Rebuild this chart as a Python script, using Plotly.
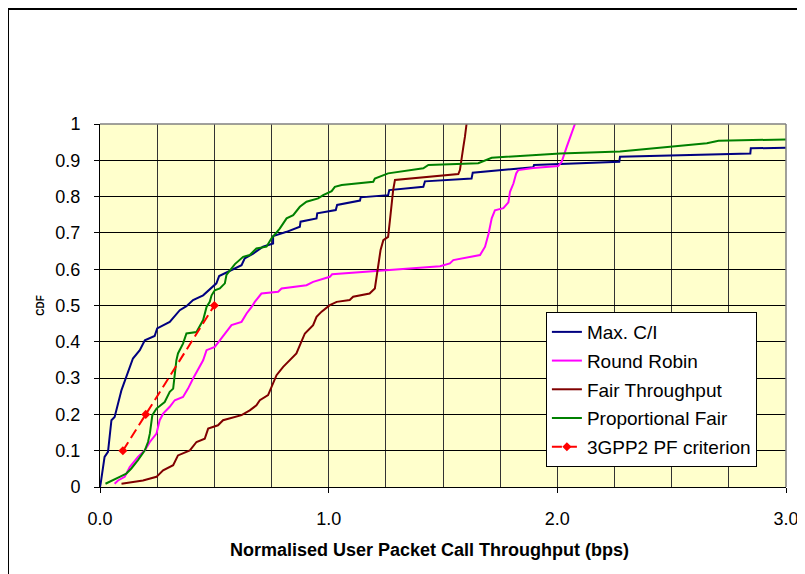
import plotly.graph_objects as go

# CDF curves (x = normalised throughput, y = CDF)
maxci_x = [0, 0.003, 0.02, 0.035, 0.05, 0.064, 0.094, 0.115, 0.144, 0.174, 0.196, 0.239, 0.25,
           0.305, 0.349, 0.378, 0.407, 0.451, 0.509, 0.521, 0.56, 0.619, 0.633, 0.67, 0.713,
           0.757, 0.757, 0.816, 0.874, 0.877, 0.947, 0.95, 1.031, 1.037, 1.137, 1.14, 1.26,
           1.265, 1.414, 1.421, 1.625, 1.63, 1.895, 1.898, 2.271, 2.274, 2.844, 2.846, 3.05]
maxci_y = [0, 0.01, 0.083, 0.097, 0.184, 0.193, 0.267, 0.303, 0.354, 0.377, 0.404, 0.416, 0.437,
           0.455, 0.487, 0.498, 0.515, 0.528, 0.561, 0.581, 0.593, 0.611, 0.63, 0.643, 0.662,
           0.671, 0.691, 0.703, 0.717, 0.731, 0.74, 0.754, 0.763, 0.777, 0.789, 0.798, 0.804,
           0.818, 0.827, 0.842, 0.85, 0.866, 0.881, 0.887, 0.896, 0.91, 0.919, 0.933, 0.935]

rr_x = [0.064, 0.079, 0.108, 0.13, 0.166, 0.196, 0.218, 0.247, 0.261, 0.276, 0.305, 0.327, 0.363,
        0.385, 0.407, 0.429, 0.451, 0.466, 0.502, 0.524, 0.575, 0.619, 0.641, 0.663, 0.677,
        0.706, 0.779, 0.794, 0.903, 0.932, 1.005, 1.015, 1.223, 1.487, 1.53, 1.545, 1.662,
        1.684, 1.699, 1.713, 1.727, 1.764, 1.786, 1.793, 1.808, 1.82, 1.829, 1.895, 2.004,
        2.019, 2.041, 2.063, 2.077]
rr_y = [0.009, 0.018, 0.028, 0.055, 0.083, 0.101, 0.124, 0.147, 0.184, 0.202, 0.221, 0.239, 0.248,
        0.271, 0.299, 0.322, 0.349, 0.377, 0.386, 0.404, 0.446, 0.455, 0.478, 0.496, 0.51,
        0.533, 0.538, 0.547, 0.556, 0.565, 0.579, 0.586, 0.595, 0.608, 0.616, 0.625, 0.639,
        0.662, 0.697, 0.74, 0.762, 0.768, 0.784, 0.813, 0.836, 0.864, 0.873, 0.879, 0.884,
        0.896, 0.937, 0.974, 1.0]

ft_x = [0.094, 0.188, 0.247, 0.276, 0.32, 0.341, 0.393, 0.422, 0.458, 0.473, 0.516, 0.538, 0.619,
        0.655, 0.684, 0.699, 0.735, 0.757, 0.772, 0.801, 0.823, 0.859, 0.877, 0.896, 0.932,
        0.947, 0.969, 1.005, 1.035, 1.092, 1.107, 1.179, 1.202, 1.209, 1.217, 1.227, 1.239,
        1.26, 1.268, 1.275, 1.282, 1.29, 1.428, 1.567, 1.574, 1.582, 1.589, 1.596, 1.603]
ft_y = [0.009, 0.018, 0.028, 0.046, 0.06, 0.087, 0.101, 0.124, 0.133, 0.161, 0.17, 0.184, 0.198,
        0.211, 0.225, 0.239, 0.253, 0.285, 0.308, 0.331, 0.345, 0.368, 0.395, 0.423, 0.446,
        0.469, 0.483, 0.501, 0.51, 0.515, 0.524, 0.533, 0.547, 0.579, 0.607, 0.653, 0.68,
        0.689, 0.735, 0.781, 0.818, 0.846, 0.855, 0.862, 0.873, 0.901, 0.937, 0.965, 1.0]

pf_x = [0.024, 0.057, 0.086, 0.115, 0.137, 0.166, 0.196, 0.21, 0.218, 0.229, 0.247, 0.283, 0.305,
        0.32, 0.327, 0.334, 0.341, 0.363, 0.378, 0.422, 0.451, 0.466, 0.48, 0.488, 0.502,
        0.524, 0.546, 0.553, 0.59, 0.626, 0.655, 0.684, 0.728, 0.75, 0.786, 0.816, 0.845,
        0.874, 0.903, 0.954, 0.976, 1.013, 1.027, 1.057, 1.195, 1.202, 1.26, 1.414, 1.436,
        1.654, 1.713, 2.012, 2.274, 2.654, 2.705, 3.05]
pf_y = [0.009, 0.018, 0.028, 0.037, 0.051, 0.074, 0.101, 0.124, 0.147, 0.198, 0.216, 0.234, 0.262,
        0.271, 0.308, 0.349, 0.368, 0.395, 0.423, 0.427, 0.46, 0.496, 0.51, 0.528, 0.542,
        0.547, 0.561, 0.584, 0.614, 0.634, 0.639, 0.657, 0.662, 0.685, 0.712, 0.74, 0.749,
        0.772, 0.786, 0.795, 0.804, 0.815, 0.827, 0.832, 0.841, 0.85, 0.864, 0.878, 0.887,
        0.892, 0.907, 0.919, 0.924, 0.947, 0.954, 0.958]

crit_x = [0.1, 0.2, 0.5]
crit_y = [0.1, 0.2, 0.5]

FONT = "Arial, Liberation Sans, sans-serif"

fig = go.Figure()

series = [
    ("Max. C/I", maxci_x, maxci_y, "#000080"),
    ("Round Robin", rr_x, rr_y, "#FF00FF"),
    ("Fair Throughput", ft_x, ft_y, "#800000"),
    ("Proportional Fair", pf_x, pf_y, "#008000"),
]
for name, xs, ys, col in series:
    fig.add_trace(go.Scatter(x=xs, y=ys, name=name, mode="lines",
                             line=dict(color=col, width=2), legendgroup=name))

fig.add_trace(go.Scatter(
    x=crit_x, y=crit_y, name="3GPP2 PF criterion", mode="lines+markers",
    line=dict(color="#FF0000", width=2, dash="10px,5px"),
    marker=dict(symbol="diamond", size=7, color="#FF0000"),
    legendgroup="crit"
))

# outer chart border
fig.add_shape(type="rect", xref="paper", yref="paper",
              x0=-0.1341, x1=1.0248, y0=-0.26, y1=1.3168,
              line=dict(color="black", width=2), layer="above")

# grey plot-area border on top and right
fig.add_shape(type="line", xref="paper", yref="paper", x0=0, x1=1, y0=1, y1=1,
              line=dict(color="#808080", width=1.5), layer="above")
fig.add_shape(type="line", xref="paper", yref="paper", x0=1, x1=1, y0=0, y1=1,
              line=dict(color="#808080", width=1.5), layer="above")

fig.add_annotation(text="Normalised User Packet Call Throughput (bps)",
                   xref="paper", yref="paper", x=0.481, y=-0.1736,
                   xanchor="center", yanchor="middle", showarrow=False,
                   font=dict(family=FONT, size=18, color="black", weight="bold"))

fig.update_xaxes(
    range=[0, 3], tickvals=[0, 1, 2, 3], tickformat=".1f",
    showgrid=True, gridcolor="#333333", gridwidth=1,
    minor=dict(dtick=0.25, showgrid=True, gridcolor="#333333", gridwidth=1),
    showline=True, linecolor="black", linewidth=1,
    ticks="outside", ticklen=5, tickcolor="black", ticklabelstandoff=10,
    tickfont=dict(family=FONT, size=18, color="black"),
    zeroline=False, automargin=False
)
fig.update_yaxes(
    range=[0, 1], dtick=0.1,
    showgrid=True, gridcolor="black", gridwidth=1,
    showline=True, linecolor="black", linewidth=1,
    ticks="outside", ticklen=5, tickcolor="black", ticklabelstandoff=10,
    tickfont=dict(family=FONT, size=18, color="black"),
    title=dict(text="CDF", standoff=8,
               font=dict(family=FONT, size=10, color="black", weight="bold")),
    zeroline=False, automargin=False
)

fig.update_layout(
    width=797, height=566,
    margin=dict(l=92, r=19, t=116, b=87),
    plot_bgcolor="#FFFFCC", paper_bgcolor="white",
    font=dict(family=FONT, color="black"),
    showlegend=True,
    legend=dict(x=0.650, y=0.482, xanchor="left", yanchor="top",
                bgcolor="white", bordercolor="black", borderwidth=1,
                font=dict(family=FONT, size=19, color="black"),
                tracegroupgap=1, itemwidth=30)
)

fig.write_html("out.html")
